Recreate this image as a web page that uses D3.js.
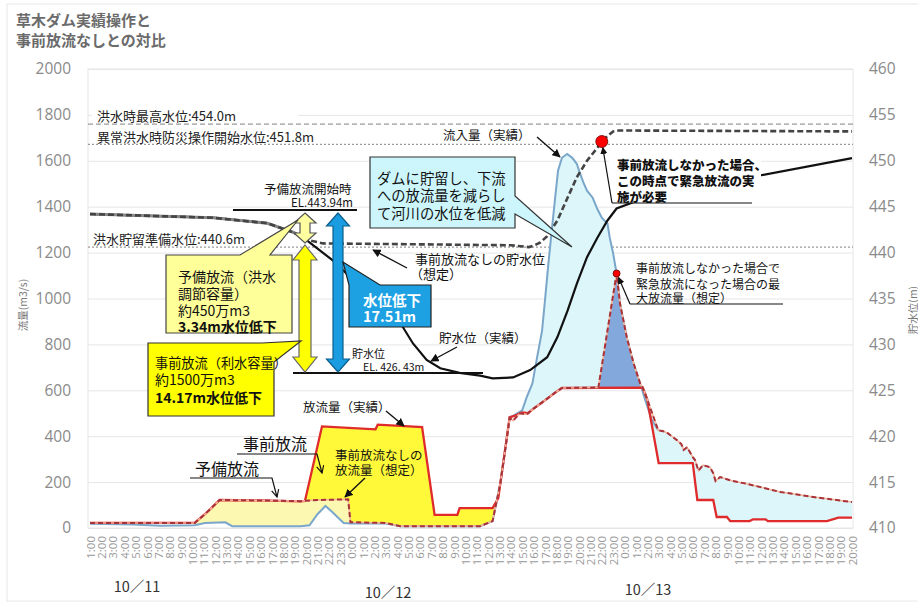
<!DOCTYPE html>
<html>
<head>
<meta charset="utf-8">
<script src="https://cdn.jsdelivr.net/npm/d3@7"></script>
<style>
    body { margin: 0; background: #fff; }
    svg { display: block; }
</style>
</head>
<body>
<svg id="svg" width="918" height="603"></svg>
<script>
const JP = '"Noto Sans CJK JP", sans-serif'
const NUM = '"Open Sans", sans-serif'

// ---- data ----
// 時刻ラベル (10/11 1:00 ～ 10/13 20:00, 1時間ごと)
const dayHours = ['1:00','2:00','3:00','4:00','5:00','6:00','7:00','8:00','9:00','10:00','11:00','12:00',
    '13:00','14:00','15:00','16:00','17:00','18:00','19:00','20:00','21:00','22:00','23:00','0:00']
const xTickLabels = dayHours.concat(dayHours, dayHours.slice(0, 20))
const dateLabels = ['10／11', '10／12', '10／13']
const flowTicks = [0, 200, 400, 600, 800, 1000, 1200, 1400, 1600, 1800, 2000]
const levelTicks = [410, 415, 420, 425, 430, 435, 440, 445, 450, 455, 460]

// 基準水位
const refLevels = [454.0, 451.8, 440.6]
const refLabels = ['洪水時最高水位:454.0m', '異常洪水時防災操作開始水位:451.8m', '洪水貯留準備水位:440.6m']

// [時間(10/11 0:00 からの時間), 流量 m3/s]
const inflow = [[1,18],[4.8,15],[7.2,10],[10.2,12],[11.1,22],[12.9,25],[13.5,8],[19.5,8],[20.3,12],
    [21.0,60],[21.7,96],[22.3,70],[23.3,22],[23.9,20],[27,20],[28.3,8],[35.3,8],[36.4,30],[37.1,200],
    [37.9,480],[39.0,513],[39.4,570],[39.9,630],[40.3,740],[40.75,860],[41.0,990],[41.3,1150],
    [41.6,1296],[41.9,1439],[42.15,1557],[42.5,1613],[42.95,1630],[43.4,1613],[43.8,1587],[44.1,1543],
    [44.4,1504],[44.7,1470],[45.2,1439],[45.6,1391],[46.0,1352],[46.5,1326],[46.7,1265],[47.0,1196],
    [47.3,1109],[47.6,978],[48.2,830],[48.8,717],[49.4,625],[49.8,560],[50.4,470],[50.96,426]]

// 放流量（実績）
const outflow = [[1,22],[10.2,22],[11.1,60],[12.4,122],[16,120],[19.5,116],[19.9,118],[21.4,443],
    [26.1,430],[26.3,450],[30.2,440],[31.3,57],[33.3,57],[33.5,87],[36.4,87],[36.9,130],[37.9,483],
    [38.4,490],[39.0,504],[39.5,500],[40.0,520],[41.0,556],[41.9,590],[42.5,610],[49.6,612],[50.0,560],
    [51.0,283],[54.0,283],[54.4,122],[55.8,122],[56.1,48],[57.0,48],[57.3,30],[59.0,30],[59.3,38],
    [60.4,38],[60.6,30],[65.8,30],[66.8,45],[68,45]]

// 事前放流なしの放流量（想定）
const outflowNoPre = [[1,22],[10.2,22],[11.1,60],[12.4,122],[16,120],[19.5,117],[21,122],[23.7,125],
    [23.9,25],[27,22],[28.3,8],[35.3,8],[36.4,30],[37.1,200],[37.9,480],[38.2,468],[38.8,500],[39.4,495],
    [40.0,520],[41.0,556],[41.9,590],[42.5,610],[45.7,612],[47.3,1109],[47.6,978],[48.2,830],[48.8,717],
    [49.4,625],[49.6,612],[50.0,560],[50.96,426],[51.4,422],[51.8,413],[52.6,383],[53.0,365],[53.2,340],
    [53.5,352],[54.0,309],[54.2,296],[54.5,250],[54.9,274],[55.5,265],[55.8,239],[56.0,205],[56.4,222],
    [57.5,205],[58.8,192],[61.7,157],[64.6,135],[68,113]]

// 貯水位（実績） [時間, EL m]
const level = [[1,444.2],[11.8,443.8],[16.6,443.2],[18.9,442.2],[20.1,441.3],[22.4,439.1],[24.5,436.6],
    [26.5,434.8],[28.3,432.3],[29.4,430.1],[30.6,428.3],[31.8,427.4],[33.5,426.9],[35.3,426.6],
    [36.4,426.3],[38.2,426.4],[39.7,427.2],[41.2,428.6],[42.1,430.8],[43.0,433.7],[43.8,436.6],
    [44.7,439.5],[45.6,441.6],[46.5,443.5],[47.3,444.8],[50.3,446.2],[54.7,447.4],[59.9,448.4],[68,450.3]]

// 事前放流なしの貯水位（想定）
const levelNoPre = [[1,444.2],[11.8,443.8],[16.6,443.2],[18.9,442.2],[20.1,441.4],[21.5,441.0],[30,440.9],
    [38.0,440.8],[39.6,440.6],[40.1,440.8],[40.6,441.1],[41.2,441.8],[42.1,443.5],[43.0,446.0],
    [43.8,448.2],[44.7,450.0],[45.6,451.4],[46.0,452.1],[46.5,452.7],[47.0,453.2],[47.5,453.3],[68,453.2]]

const alertPoint = [46.0, 452.1]      // 緊急放流が必要になる時点
const emergencyPeak = [47.3, 1109]    // 緊急放流時の最大放流量

// ---- scales ----
const svg = d3.select('#svg')
const x = d3.scaleLinear().domain([1, 68]).range([90, 852])
const yL = d3.scaleLinear().domain([0, 2000]).range([528, 69])
const yR = d3.scaleLinear().domain([410, 460]).range([528, 69])

const valAt = (s, h) => {
    if (h <= s[0][0]) return s[0][1]
    for (let i = 1; i < s.length; i++) {
        if (h <= s[i][0]) {
            const [h0, v0] = s[i - 1], [h1, v1] = s[i]
            return v0 + (v1 - v0) * (h - h0) / (h1 - h0)
        }
    }
    return s[s.length - 1][1]
}
const clip = (s, a, b) => [[a, valAt(s, a)], ...s.filter(d => d[0] > a && d[0] < b), [b, valAt(s, b)]]

const lineQ = d3.line().x(d => x(d[0])).y(d => yL(d[1]))
const lineL = d3.line().x(d => x(d[0])).y(d => yR(d[1]))
const band = (upper, lower) => lineQ(upper.concat(lower.slice().reverse())) + 'Z'

// markers
const defs = svg.append('defs')
defs.append('marker').attr('id', 'ah')
    .attr('viewBox', '0 0 10 10').attr('refX', 9).attr('refY', 5)
    .attr('markerWidth', 6).attr('markerHeight', 6).attr('orient', 'auto')
    .append('path').attr('d', 'M0,0L10,5L0,10z').attr('fill', '#111')
defs.append('marker').attr('id', 'av')
    .attr('viewBox', '0 0 10 10').attr('refX', 9).attr('refY', 5)
    .attr('markerWidth', 9).attr('markerHeight', 9).attr('orient', 'auto')
    .attr('markerUnits', 'userSpaceOnUse')
    .append('path').attr('d', 'M1,1L9,5L1,9').attr('fill', 'none').attr('stroke', '#111').attr('stroke-width', 1.3)

// 外枠
svg.append('rect').attr('x', 7).attr('y', 4).attr('width', 920).attr('height', 597)
    .attr('fill', 'none').attr('stroke', '#e8e8e8')

// ---- axes ----
svg.append('g')
    .attr('transform', 'translate(88,0)')
    .call(d3.axisLeft(yL).tickValues(flowTicks).tickSize(-765).tickPadding(17).tickFormat(d3.format('d')))
    .call(g => g.select('.domain').remove())
    .call(g => g.selectAll('line').attr('stroke', '#e6e6e6'))
    .call(g => g.selectAll('text').attr('font-family', NUM).attr('font-size', 15.5).attr('fill', '#8a8a8a'))

svg.append('g')
    .attr('transform', 'translate(853,0)')
    .call(d3.axisRight(yR).tickValues(levelTicks).tickSize(0).tickPadding(16))
    .call(g => g.select('.domain').remove())
    .call(g => g.selectAll('text').attr('font-family', NUM).attr('font-size', 15.5).attr('fill', '#8a8a8a'))

svg.append('rect').attr('x', 88).attr('y', 69).attr('width', 765).attr('height', 459)
    .attr('fill', 'none').attr('stroke', '#e6e6e6')

svg.append('g')
    .attr('transform', 'translate(0,528)')
    .call(d3.axisBottom(x).tickValues(d3.range(1, 69)).tickSize(0).tickFormat(d => xTickLabels[d - 1]))
    .call(g => g.select('.domain').remove())
    .call(g => g.selectAll('text')
        .attr('transform', 'rotate(-90)')
        .attr('x', -8).attr('y', 0).attr('dy', '0.36em')
        .attr('text-anchor', 'end')
        .attr('font-family', NUM).attr('font-size', 11.5).attr('fill', '#999'))

const dateX = [137, 388, 648]
const dateY = [585, 591, 588]
dateLabels.forEach((t, i) => {
    svg.append('text').text(t)
        .attr('x', dateX[i]).attr('y', dateY[i]).attr('dominant-baseline', 'central')
        .attr('text-anchor', 'middle')
        .attr('font-family', JP).attr('font-size', 14.5).attr('fill', '#333')
})

svg.append('text').text('流量(m3/s)')
    .attr('transform', 'translate(22,305) rotate(-90)')
    .attr('text-anchor', 'middle').attr('dominant-baseline', 'central')
    .attr('font-family', JP).attr('font-size', 10.5).attr('fill', '#777')
svg.append('text').text('貯水位(m)')
    .attr('transform', 'translate(912,310) rotate(-90)')
    .attr('text-anchor', 'middle').attr('dominant-baseline', 'central')
    .attr('font-family', JP).attr('font-size', 10.5).attr('fill', '#777')

// ---- text helpers ----
// 複数行テキスト: lines = [[文字列, y, {weight, anchor, x, size}], ...]
const block = (px, lines, size, opt = {}) => {
    const t = svg.append('text')
        .attr('font-family', JP).attr('font-size', size)
        .attr('fill', opt.fill || '#111')
        .attr('font-weight', opt.weight || 'normal')
    lines.forEach(([s, py, o = {}]) => {
        t.append('tspan').text(s)
            .attr('x', o.x || px).attr('y', py)
            .attr('dominant-baseline', 'central')
            .attr('text-anchor', o.anchor || 'start')
            .attr('font-weight', o.weight || null)
            .attr('font-size', o.size || null)
    })
    return t
}
const txt = (s, px, py, size, opt = {}) => block(px, [[s, py, { anchor: opt.anchor }]], size, opt)

// title
block(16, [['草木ダム実績操作と', 19], ['事前放流なしとの対比', 39]], 15, { weight: 'bold', fill: '#6b6b6b' })

// ---- reference levels ----
svg.append('rect').attr('x', 92).attr('y', 106).attr('width', 206).attr('height', 17).attr('fill', '#fff')
const refDash = ['5,3', '2,2', '2,2']
const refTextY = [115, 136, 238]
const refTextX = [97, 97, 93]
refLevels.forEach((lv, i) => {
    svg.append('line')
        .attr('x1', 88).attr('x2', 853).attr('y1', yR(lv)).attr('y2', yR(lv))
        .attr('stroke', '#9a9a9a').attr('stroke-width', 1.2).attr('stroke-dasharray', refDash[i])
    txt(refLabels[i], refTextX[i], refTextY[i], 13, { fill: '#222' })
})

// ---- fills ----
svg.append('path')
    .attr('d', band(clip(inflow, 37.9, 50.96).concat(clip(outflowNoPre, 50.96, 68).slice(1)), clip(outflow, 37.9, 68)))
    .attr('fill', '#dcf6fa')
svg.append('path')
    .attr('d', band(clip(outflowNoPre, 10.2, 23.9), clip(inflow, 10.2, 23.9)))
    .attr('fill', '#fcf8b2')
svg.append('path')
    .attr('d', band(clip(outflow, 19.5, 37.9), clip(outflowNoPre, 19.5, 37.9)))
    .attr('fill', '#fff93a')
svg.append('path')
    .attr('d', band(clip(outflowNoPre, 45.7, 49.5), clip(outflow, 45.7, 49.5)))
    .attr('fill', '#82a8dc')

// ---- lines ----
svg.append('path').attr('d', lineQ(inflow))
    .attr('fill', 'none').attr('stroke', '#7aa6c9').attr('stroke-width', 2)
svg.append('path').attr('d', lineQ(outflow))
    .attr('fill', 'none').attr('stroke', '#df2b2b').attr('stroke-width', 2.3)
svg.append('path').attr('d', lineQ(outflowNoPre))
    .attr('fill', 'none').attr('stroke', '#f2b49a').attr('stroke-width', 1.6)
svg.append('path').attr('d', lineQ(outflowNoPre))
    .attr('fill', 'none').attr('stroke', '#a8323a').attr('stroke-width', 2).attr('stroke-dasharray', '5,3')

svg.append('path').attr('d', lineL(level))
    .attr('fill', 'none').attr('stroke', '#111').attr('stroke-width', 2.2)
svg.append('path').attr('d', lineL(clip(levelNoPre, 1, 20.1)))
    .attr('fill', 'none').attr('stroke', '#8a8a8a').attr('stroke-width', 3)
svg.append('path').attr('d', lineL(levelNoPre))
    .attr('fill', 'none').attr('stroke', '#444').attr('stroke-width', 2.6).attr('stroke-dasharray', '6,3')

// ---- annotations ----
const poly = (pts, fill, stroke) => svg.append('path')
    .attr('d', d3.line()(pts) + 'Z')
    .attr('fill', fill).attr('stroke', stroke).attr('stroke-width', 1.2)
const arrow = (pts, marker = 'ah', w = 1.4) => svg.append('path')
    .attr('d', d3.line()(pts)).attr('fill', 'none')
    .attr('stroke', '#111').attr('stroke-width', w)
    .attr('marker-end', `url(#${marker})`)
const dblArrow = (cx, y1, y2, sw, hw, hl) => [
    [cx, y1], [cx + hw / 2, y1 + hl], [cx + sw / 2, y1 + hl], [cx + sw / 2, y2 - hl], [cx + hw / 2, y2 - hl],
    [cx, y2], [cx - hw / 2, y2 - hl], [cx - sw / 2, y2 - hl], [cx - sw / 2, y1 + hl], [cx - hw / 2, y1 + hl]]

// 白抜き（緊急放流の注記）
svg.append('rect').attr('x', 609).attr('y', 150).attr('width', 152).attr('height', 53).attr('fill', '#fff')

// ダムに貯留し…
poly([[370,157],[515,157],[515,196],[572,247],[515,214],[515,228],[370,228]], '#ccf6fc', '#333')
block(377, [['ダムに貯留し、下流', 177], ['への放流量を減らし', 194], ['て河川の水位を低減', 212]], 14.3)

txt('流入量（実績）', 443, 134, 12.5)
arrow([[537,137],[560,157]])

// 予備放流開始時 / 貯水位
svg.append('line').attr('x1', 233).attr('x2', 357).attr('y1', 210).attr('y2', 210)
    .attr('stroke', '#111').attr('stroke-width', 2)
svg.append('line').attr('x1', 293).attr('x2', 483).attr('y1', 373).attr('y2', 373)
    .attr('stroke', '#111').attr('stroke-width', 2)
block(264, [['予備放流開始時', 188], ['EL.443.94m', 202, { anchor: 'end', x: 353, size: 11.5 }]], 12.5)
block(352, [['貯水位', 353], ['EL. 426. 43m', 366, { x: 363, size: 10.5 }]], 11)

poly(dblArrow(305, 213, 243, 10, 22, 10), '#ffffa0', '#555')
poly(dblArrow(305, 245, 372, 12, 24, 15), '#ffff00', '#666')
poly(dblArrow(338, 213, 372, 10, 23, 13), '#1a9de0', '#0b5f8c')

// 予備放流（洪水調節容量）
poly([[166,255],[240,255],[298,220],[270,255],[292,255],[292,333],[166,333]], '#ffff99', '#444')
block(178, [['予備放流（洪水', 276], ['調節容量）', 293], ['約450万m3', 310], ['3.34m水位低下', 326, { weight: 'bold' }]], 14)

// 事前放流（利水容量）
poly([[148,343],[262,343],[301,341],[274,362],[274,416],[148,416]], '#ffff00', '#333')
block(155, [['事前放流（利水容量）', 362, { size: 13.2 }], ['約1500万m3', 379], ['14.17m水位低下', 397, { weight: 'bold' }]], 14)

// 水位低下 17.51m
poly([[349,285],[343,262],[380,285],[431,285],[431,327],[349,327]], '#1ea1e3', '#222')
block(363, [['水位低下', 299], ['17.51m', 315]], 14.5, { weight: 'bold', fill: '#fff' })

block(415, [['事前放流なしの貯水位', 258], ['（想定）', 273, { x: 410 }]], 13)
arrow([[407,268],[373,250]])

txt('貯水位（実績）', 439, 337, 12.5)
arrow([[457,347],[431,361]])

// 緊急放流の注記
block(617, [['事前放流しなかった場合、', 164], ['この時点で緊急放流の実', 180], ['施が必要', 196]], 12.5, { weight: 900 })
svg.append('line').attr('x1', 612).attr('x2', 752).attr('y1', 203).attr('y2', 203)
    .attr('stroke', '#111').attr('stroke-width', 1.2)
arrow([[612,203],[x(alertPoint[0]) + 1, yR(alertPoint[1]) + 6]], 'ah', 1.2)

block(636, [['事前放流しなかった場合で', 267], ['緊急放流になった場合の最', 283], ['大放流量（想定）', 297]], 12)
svg.append('line').attr('x1', 630).attr('x2', 783).attr('y1', 304).attr('y2', 304)
    .attr('stroke', '#111').attr('stroke-width', 1.2)
arrow([[630,304],[x(emergencyPeak[0]) + 2, yL(emergencyPeak[1]) + 4]], 'ah', 1.2)

svg.append('circle')
    .attr('cx', x(alertPoint[0])).attr('cy', yR(alertPoint[1])).attr('r', 6)
    .attr('fill', '#f00').attr('stroke', '#600').attr('stroke-width', 0.8)
svg.append('circle')
    .attr('cx', x(emergencyPeak[0])).attr('cy', yL(emergencyPeak[1])).attr('r', 3.5)
    .attr('fill', '#f00').attr('stroke', '#600').attr('stroke-width', 0.8)

// 放流量
txt('放流量（実績）', 303, 406, 12.5)
arrow([[386,411],[404,426]])

txt('事前放流', 243, 443, 16)
arrow([[237,454],[317,454],[322,473]], 'av', 1.2)
txt('予備放流', 195, 468, 16)
arrow([[190,478],[272,478],[277,497]], 'av', 1.2)

block(335, [['事前放流なしの', 454], ['放流量（想定）', 469]], 12.5)
arrow([[365,478],[345,497]])
</script>
</body>
</html>
